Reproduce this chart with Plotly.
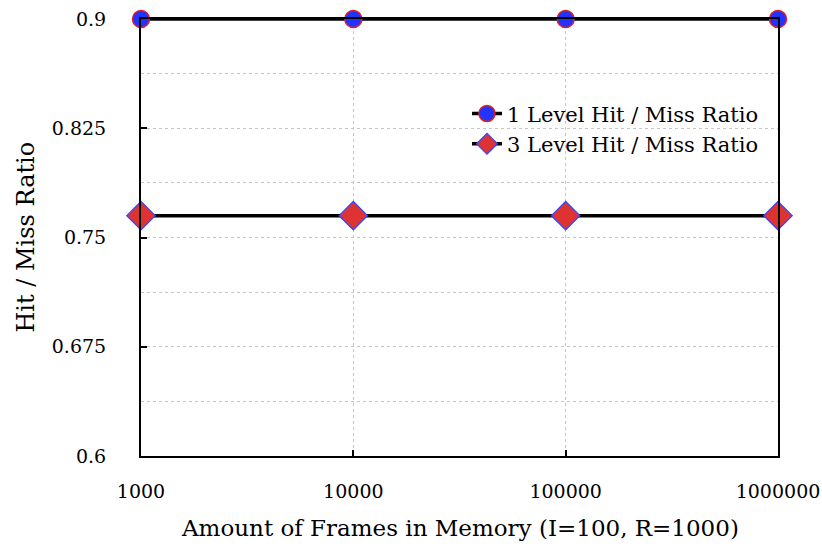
import plotly.graph_objects as go

frames = [1000, 10000, 100000, 1000000]
one_level = [0.9, 0.9, 0.9, 0.9]
three_level = [0.765, 0.765, 0.765, 0.765]
series_names = ["1 Level Hit / Miss Ratio", "3 Level Hit / Miss Ratio"]
x_ticks = [1000, 10000, 100000, 1000000]
x_tick_text = ["1000", "10000", "100000", "1000000"]
y_ticks = [0.6, 0.675, 0.75, 0.825, 0.9]
y_tick_text = ["0.6", "0.675", "0.75", "0.825", "0.9"]
x_title = "Amount of Frames in Memory (I=100, R=1000)"
y_title = "Hit / Miss Ratio"

FONT = "DejaVu Serif"
GRID = "#c4c4c4"

fig = go.Figure()
fig.add_trace(go.Scatter(
    x=frames, y=one_level, name=series_names[0], mode="lines+markers",
    line=dict(color="black", width=3.5),
    marker=dict(symbol="circle", size=17, color="#2233ff", line=dict(color="#e02020", width=1.5)),
    cliponaxis=False,
))
fig.add_trace(go.Scatter(
    x=frames, y=three_level, name=series_names[1], mode="lines+markers",
    line=dict(color="black", width=3.5),
    marker=dict(symbol="diamond", size=22, color="#dd3333", line=dict(color="#3344ff", width=1.2)),
    cliponaxis=False,
))

fig.update_layout(
    width=822, height=551,
    margin=dict(l=141, r=44, t=19, b=95, autoexpand=False),
    plot_bgcolor="white", paper_bgcolor="white",
    font=dict(family=FONT, size=19, color="black"),
    showlegend=True,
    legend=dict(x=0.978, xanchor="right", y=0.83, yanchor="top",
                bgcolor="rgba(0,0,0,0)", font=dict(family=FONT, size=21),
                tracegroupgap=0, itemwidth=30),
    xaxis=dict(
        type="log", range=[2.99999, 6.00001],
        tickvals=x_ticks, ticktext=x_tick_text,
        ticks="inside", ticklen=6, tickwidth=1.5, tickcolor="black",
        showline=True, linecolor="black", linewidth=2, mirror=True,
        showgrid=True, gridcolor=GRID, griddash="dot", gridwidth=1,
        zeroline=False, ticklabelstandoff=17, automargin=False,
    ),
    yaxis=dict(
        range=[0.6, 0.9],
        tickvals=y_ticks, ticktext=y_tick_text,
        ticks="inside", ticklen=6, tickwidth=1.5, tickcolor="black",
        showline=True, linecolor="black", linewidth=2, mirror=True,
        showgrid=True, gridcolor=GRID, griddash="dot", gridwidth=1,
        minor=dict(dtick=0.0375, tick0=0.6, showgrid=True, gridcolor=GRID,
                   griddash="dot", gridwidth=1, ticks=""),
        zeroline=False, ticklabelstandoff=29, automargin=False,
    ),
    annotations=[
        dict(text=x_title, xref="paper", yref="paper", x=0.5, y=-0.165,
             xanchor="center", yanchor="middle", showarrow=False,
             font=dict(family=FONT, size=23)),
        dict(text=y_title, xref="paper", yref="paper", x=-0.182, y=0.5,
             xanchor="center", yanchor="middle", showarrow=False, textangle=-90,
             font=dict(family=FONT, size=24)),
    ],
)

fig.write_html("out.html")
